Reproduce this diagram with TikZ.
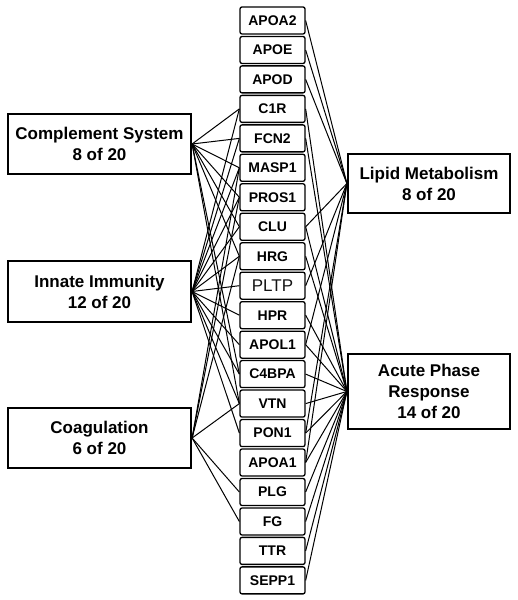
\documentclass[tikz,border=0pt]{standalone}
\usepackage{fontspec}
\setmainfont{Liberation Sans}
\begin{document}
\begin{tikzpicture}[x=1pt,y=1pt,
 gene/.style={draw,line width=1.3pt,rounded corners=2pt,minimum width=65pt,minimum height=27pt,inner sep=0pt,font=\fontsize{14}{14}\selectfont\bfseries},
 group/.style={draw,line width=2.2pt,minimum width=183pt,align=center,inner sep=0pt,font=\fontsize{17}{21}\selectfont\bfseries},
 link/.style={line width=1pt}]
 \useasboundingbox (0,0) rectangle (518,600);
 % genes
 \node[gene] (apoa2) at (272.5,579.5) {APOA2};
 \node[gene] (apoe) at (272.5,550.0) {APOE};
 \node[gene] (apod) at (272.5,520.6) {APOD};
 \node[gene] (c1r) at (272.5,491.1) {C1R};
 \node[gene] (fcn2) at (272.5,461.6) {FCN2};
 \node[gene] (masp1) at (272.5,432.2) {MASP1};
 \node[gene] (pros1) at (272.5,402.7) {PROS1};
 \node[gene] (clu) at (272.5,373.2) {CLU};
 \node[gene] (hrg) at (272.5,343.7) {HRG};
 \node[gene,font=\fontsize{17}{17}\selectfont,text=black!92] (pltp) at (272.5,314.3) {PLTP};
 \node[gene] (hpr) at (272.5,284.8) {HPR};
 \node[gene] (apol1) at (272.5,255.3) {APOL1};
 \node[gene] (c4bpa) at (272.5,225.9) {C4BPA};
 \node[gene] (vtn) at (272.5,196.4) {VTN};
 \node[gene] (pon1) at (272.5,166.9) {PON1};
 \node[gene] (apoa1) at (272.5,137.5) {APOA1};
 \node[gene] (plg) at (272.5,108.0) {PLG};
 \node[gene] (fg) at (272.5,78.5) {FG};
 \node[gene] (ttr) at (272.5,49.1) {TTR};
 \node[gene] (sepp1) at (272.5,19.6) {SEPP1};
 % groups
 \node[group,minimum height=60pt] (comp) at (99.5,456) {Complement System\\8 of 20};
 \node[group,minimum height=61pt] (innate) at (99.5,308.5) {Innate Immunity\\12 of 20};
 \node[group,minimum height=60pt] (coag) at (99.5,162) {Coagulation\\6 of 20};
 \node[group,minimum width=162pt,minimum height=59pt] (lipid) at (429,416.5) {Lipid Metabolism\\8 of 20};
 \node[group,minimum width=162pt,minimum height=75pt] (acute) at (429,208.5) {Acute Phase\\Response\\14 of 20};
 % complement system
 \draw[link] (comp.east) -- (c1r.west);
 \draw[link] (comp.east) -- (fcn2.west);
 \draw[link] (comp.east) -- (masp1.west);
 \draw[link] (comp.east) -- (pros1.west);
 \draw[link] (comp.east) -- (clu.west);
 \draw[link] (comp.east) -- (hrg.west);
 \draw[link] (comp.east) -- (c4bpa.west);
 \draw[link] (comp.east) -- (vtn.west);
 % innate immunity
 \draw[link] (innate.east) -- (c1r.west);
 \draw[link] (innate.east) -- (fcn2.west);
 \draw[link] (innate.east) -- (masp1.west);
 \draw[link] (innate.east) -- (pros1.west);
 \draw[link] (innate.east) -- (clu.west);
 \draw[link] (innate.east) -- (hrg.west);
 \draw[link] (innate.east) -- (pltp.west);
 \draw[link] (innate.east) -- (hpr.west);
 \draw[link] (innate.east) -- (apol1.west);
 \draw[link] (innate.east) -- (c4bpa.west);
 \draw[link] (innate.east) -- (vtn.west);
 \draw[link] (innate.east) -- (pon1.west);
 % coagulation
 \draw[link] (coag.east) -- (masp1.west);
 \draw[link] (coag.east) -- (pros1.west);
 \draw[link] (coag.east) -- (hrg.west);
 \draw[link] (coag.east) -- (vtn.west);
 \draw[link] (coag.east) -- (plg.west);
 \draw[link] (coag.east) -- (fg.west);
 % lipid metabolism
 \draw[link] (apoa2.east) -- (lipid.west);
 \draw[link] (apoe.east) -- (lipid.west);
 \draw[link] (apod.east) -- (lipid.west);
 \draw[link] (clu.east) -- (lipid.west);
 \draw[link] (pltp.east) -- (lipid.west);
 \draw[link] (apol1.east) -- (lipid.west);
 \draw[link] (pon1.east) -- (lipid.west);
 \draw[link] (apoa1.east) -- (lipid.west);
 % acute phase response
 \draw[link] (c1r.east) -- (acute.west);
 \draw[link] (fcn2.east) -- (acute.west);
 \draw[link] (clu.east) -- (acute.west);
 \draw[link] (hrg.east) -- (acute.west);
 \draw[link] (hpr.east) -- (acute.west);
 \draw[link] (apol1.east) -- (acute.west);
 \draw[link] (c4bpa.east) -- (acute.west);
 \draw[link] (vtn.east) -- (acute.west);
 \draw[link] (pon1.east) -- (acute.west);
 \draw[link] (apoa1.east) -- (acute.west);
 \draw[link] (plg.east) -- (acute.west);
 \draw[link] (fg.east) -- (acute.west);
 \draw[link] (ttr.east) -- (acute.west);
 \draw[link] (sepp1.east) -- (acute.west);
\end{tikzpicture}
\end{document}
